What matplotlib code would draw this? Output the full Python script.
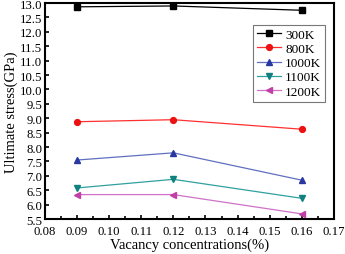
import matplotlib
matplotlib.use('Agg')
import matplotlib.pyplot as plt
from matplotlib.ticker import MultipleLocator

# data
concentrations = [0.09, 0.12, 0.16]
temps = ['300K', '800K', '1000K', '1100K', '1200K']
stress_300 = [12.87, 12.90, 12.75]
stress_800 = [8.88, 8.95, 8.62]
stress_1000 = [7.55, 7.80, 6.85]
stress_1100 = [6.58, 6.88, 6.22]
stress_1200 = [6.35, 6.35, 5.68]

plt.rcParams['font.family'] = ['Liberation Serif', 'DejaVu Serif']

fig = plt.figure(figsize=(3.45, 2.55), dpi=100)
ax = fig.add_axes([0.130, 0.137, 0.838, 0.847])

series = [stress_300, stress_800, stress_1000, stress_1100, stress_1200]
line_colors = ['#000000', '#ff3030', '#6070c0', '#30a0a0', '#d070c8']
marker_colors = ['#000000', '#ee1111', '#2838a0', '#108080', '#c040a8']
markers = ['s', 'o', '^', 'v', '<']

for label, vals, lc, mc, m in zip(temps, series, line_colors, marker_colors, markers):
    ax.plot(concentrations, vals, color=lc, lw=0.9, marker=m, markersize=4.2,
            markerfacecolor=mc, markeredgecolor=mc, label=label)

ax.set_xlim(0.08, 0.17)
ax.set_ylim(5.5, 13.0)
ax.xaxis.set_major_locator(MultipleLocator(0.01))
ax.xaxis.set_minor_locator(MultipleLocator(0.005))
ax.yaxis.set_major_locator(MultipleLocator(0.5))
ax.tick_params(which='both', direction='in', labelsize=9.2, width=1.2, pad=2)
ax.tick_params(axis='x', which='both', pad=4.5)
ax.tick_params(which='major', length=3)
ax.tick_params(which='minor', length=2)
ax.xaxis.set_major_formatter(plt.FuncFormatter(lambda v, p: f'{v:.2f}'))
ax.yaxis.set_major_formatter(plt.FuncFormatter(lambda v, p: f'{v:.1f}'))
for s in ax.spines.values():
    s.set_linewidth(1.5)

ax.set_xlabel('Vacancy concentrations(%)', fontsize=10.5, labelpad=0)
ax.set_ylabel('Ultimate stress(GPa)', fontsize=10.5, labelpad=1)

leg = ax.legend(loc='upper right', bbox_to_anchor=(0.943, 0.9),
                bbox_transform=fig.transFigure, fontsize=9.5, frameon=True,
                fancybox=False, edgecolor='#555555', handlelength=1.8,
                borderpad=0.3, labelspacing=0.15, handletextpad=0.3,
                borderaxespad=0)
leg.get_frame().set_linewidth(0.8)

fig.savefig('out.png', dpi=100)
